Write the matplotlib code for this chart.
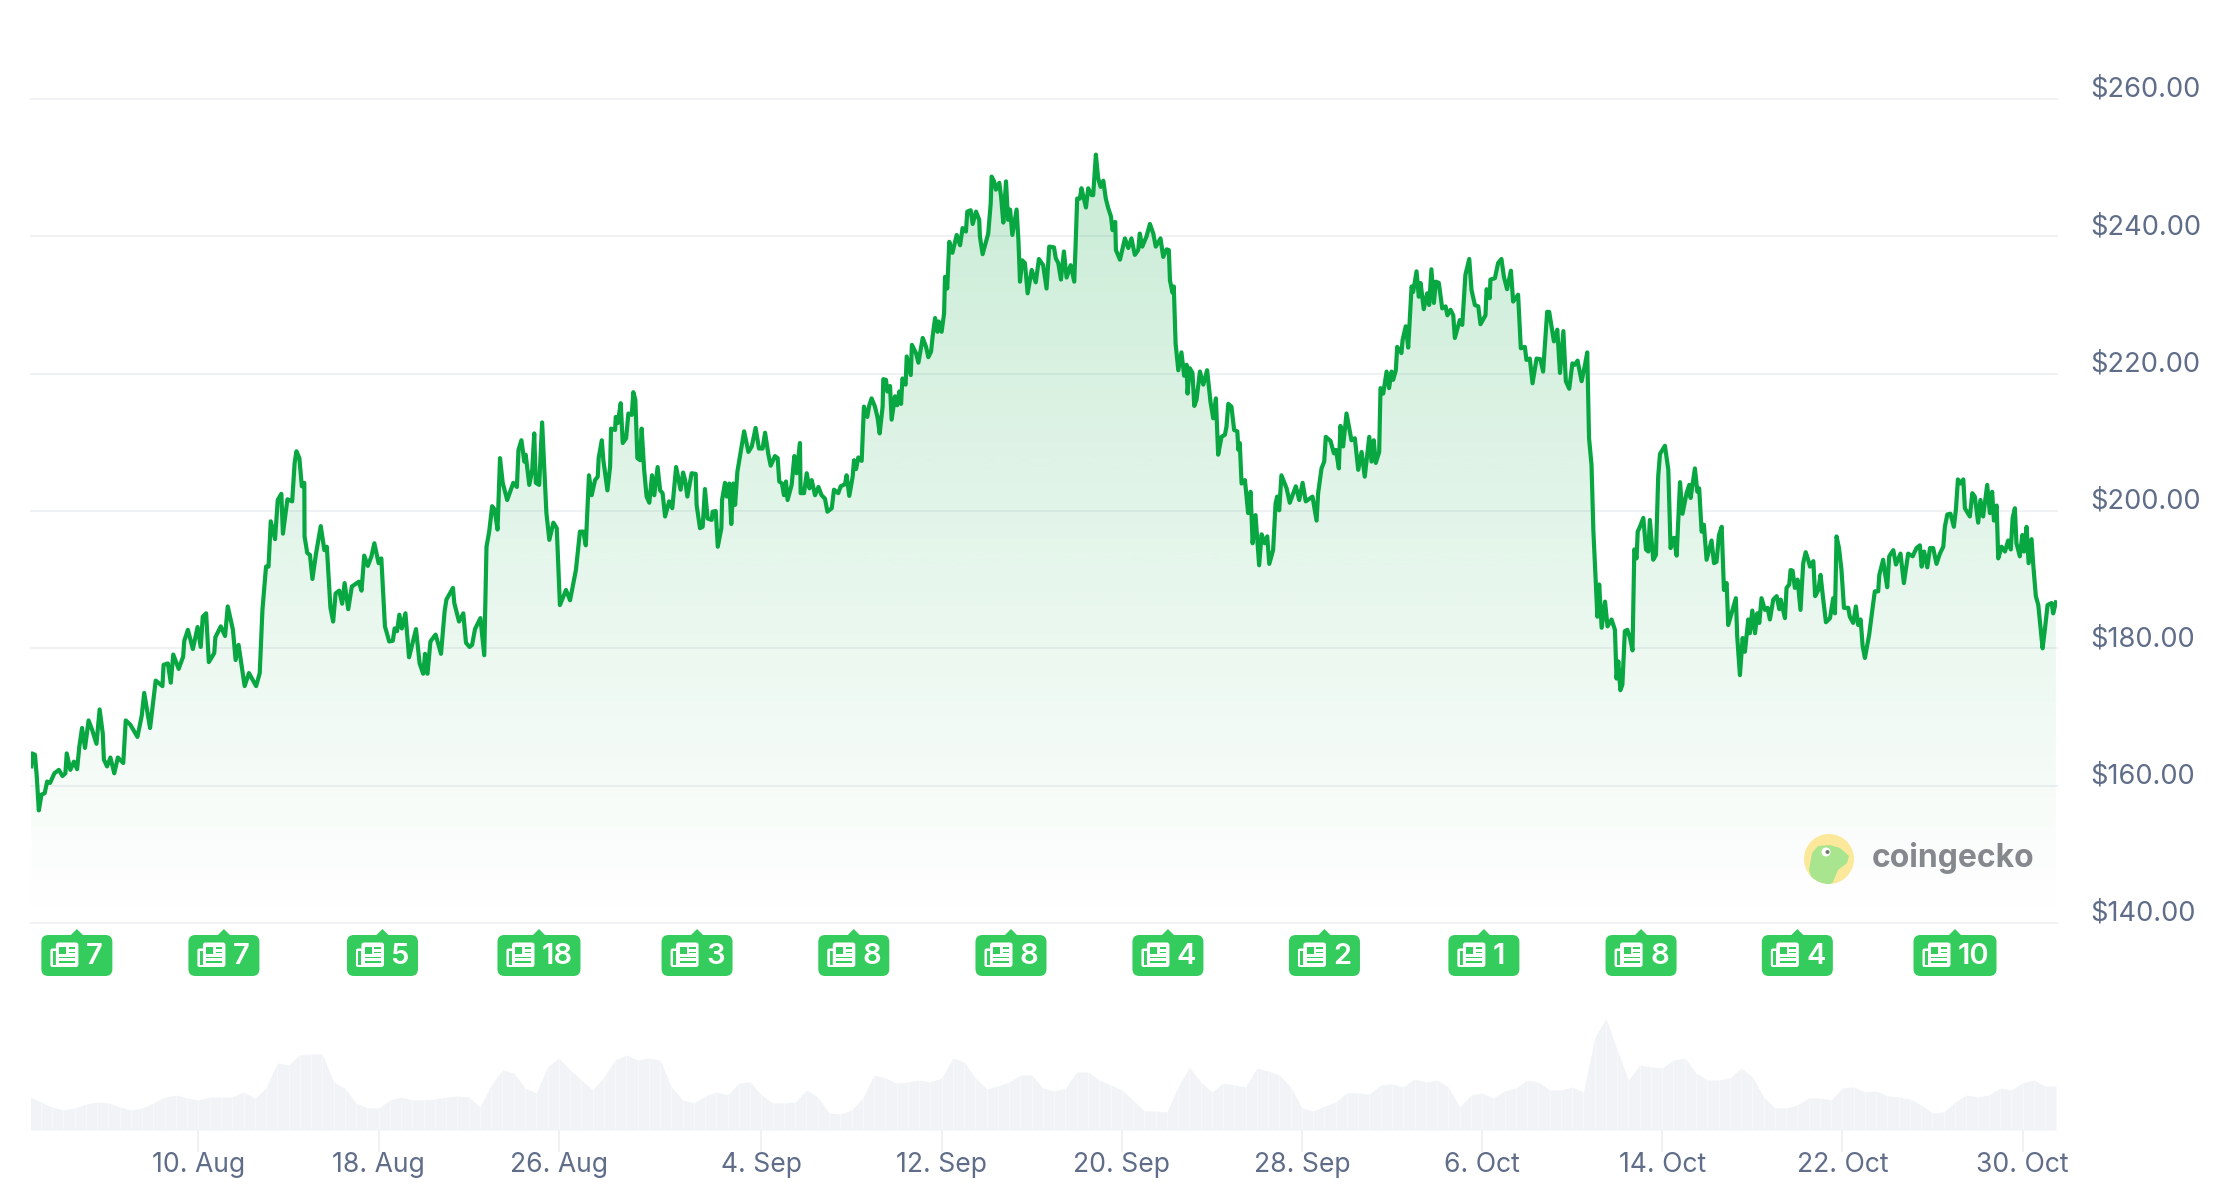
from matplotlib import pyplot as plt
from matplotlib.patches import Circle, FancyBboxPatch, Polygon, Rectangle
import numpy as np

# days counted from 1 Aug, prices in USD
price_days = [
    1.58, 1.61, 1.74, 1.82, 1.91, 2.03, 2.17, 2.28, 2.41, 2.60, 2.80, 2.96, 3.09, 3.15, 3.31, 3.47, 3.61, 3.71, 3.83, 3.96,
    4.12, 4.28, 4.47, 4.61, 4.75, 4.80, 4.94, 5.09, 5.26, 5.42, 5.66, 5.77, 5.97, 6.29, 6.48, 6.59, 6.85, 7.10, 7.40, 7.45,
    7.64, 7.77, 7.88, 8.12, 8.32, 8.37, 8.53, 8.75, 8.96, 9.10, 9.19, 9.34, 9.46, 9.70, 9.75, 9.99, 10.18, 10.30, 10.53, 10.65,
    10.78, 11.05, 11.24, 11.56, 11.72, 11.84, 12.00, 12.11, 12.21, 12.40, 12.52, 12.68, 12.75, 12.95, 13.16, 13.27, 13.35, 13.48, 13.59, 13.70,
    13.71, 13.83, 13.95, 14.06, 14.22, 14.43, 14.59, 14.70, 14.86, 14.98, 15.09, 15.25, 15.38, 15.49, 15.65, 15.81, 16.12, 16.24, 16.36, 16.52,
    16.68, 16.81, 17.00, 17.12, 17.28, 17.47, 17.63, 17.71, 17.82, 17.92, 18.03, 18.19, 18.35, 18.66, 18.82, 18.98, 19.06, 19.17, 19.30, 19.53,
    19.77, 19.93, 20.01, 20.30, 20.36, 20.57, 20.76, 20.88, 21.04, 21.15, 21.28, 21.52, 21.69, 21.79, 21.91, 22.04, 22.15, 22.28, 22.39, 22.51,
    22.71, 22.98, 23.14, 23.21, 23.34, 23.47, 23.53, 23.69, 23.82, 23.91, 23.98, 24.13, 24.26, 24.45, 24.58, 24.76, 24.91, 25.05, 25.32, 25.50,
    25.76, 25.94, 26.09, 26.20, 26.34, 26.46, 26.61, 26.73, 26.77, 26.91, 26.98, 27.16, 27.28, 27.32, 27.50, 27.53, 27.62, 27.75, 27.84, 27.99,
    28.09, 28.24, 28.31, 28.40, 28.49, 28.61, 28.68, 28.79, 28.90, 29.02, 29.14, 29.24, 29.39, 29.50, 29.61, 29.72, 29.90, 30.04, 30.21, 30.41,
    30.52, 30.61, 30.71, 30.90, 31.08, 31.12, 31.27, 31.39, 31.49, 31.61, 31.79, 31.83, 31.97, 32.06, 32.22, 32.25, 32.38, 32.46, 32.57, 32.66,
    32.75, 32.83, 32.93, 33.12, 33.23, 33.42, 33.57, 33.74, 33.89, 34.05, 34.16, 34.31, 34.41, 34.60, 34.72, 34.79, 34.91, 35.00, 35.09, 35.16,
    35.34, 35.46, 35.56, 35.71, 35.74, 35.89, 36.01, 36.13, 36.23, 36.38, 36.53, 36.67, 36.82, 36.93, 37.12, 37.22, 37.41, 37.52, 37.71, 37.78,
    37.90, 38.05, 38.11, 38.20, 38.30, 38.45, 38.55, 38.70, 38.78, 38.89, 39.04, 39.15, 39.25, 39.38, 39.41, 39.53, 39.59, 39.71, 39.78, 39.93,
    40.03, 40.12, 40.20, 40.26, 40.40, 40.45, 40.63, 40.68, 40.86, 40.97, 41.16, 41.31, 41.41, 41.53, 41.60, 41.71, 41.82, 41.87, 42.00, 42.11,
    42.15, 42.25, 42.34, 42.48, 42.67, 42.82, 42.93, 43.08, 43.14, 43.29, 43.38, 43.53, 43.67, 43.70, 43.82, 44.07, 44.18, 44.22, 44.33, 44.41,
    44.56, 44.64, 44.74, 44.86, 44.95, 45.04, 45.14, 45.33, 45.41, 45.48, 45.58, 45.70, 45.82, 46.00, 46.18, 46.32, 46.51, 46.66, 46.78, 46.99,
    47.07, 47.18, 47.30, 47.43, 47.55, 47.73, 47.89, 47.95, 48.02, 48.14, 48.21, 48.41, 48.51, 48.66, 48.73, 48.85, 48.95, 49.06, 49.18, 49.29,
    49.40, 49.52, 49.59, 49.71, 49.74, 49.92, 50.14, 50.29, 50.43, 50.58, 50.73, 50.80, 50.91, 51.10, 51.25, 51.40, 51.51, 51.72, 51.84, 51.99,
    52.09, 52.14, 52.25, 52.31, 52.39, 52.51, 52.65, 52.77, 52.88, 52.92, 53.02, 53.14, 53.22, 53.32, 53.47, 53.62, 53.79, 53.94, 54.06, 54.18,
    54.28, 54.43, 54.58, 54.65, 54.73, 54.87, 54.99, 55.13, 55.18, 55.24, 55.32, 55.47, 55.61, 55.72, 55.81, 55.94, 56.10, 56.21, 56.35, 56.46,
    56.55, 56.72, 56.83, 56.90, 56.99, 57.09, 57.32, 57.46, 57.73, 57.88, 58.03, 58.17, 58.47, 58.65, 58.72, 58.87, 58.99, 59.06, 59.27, 59.42,
    59.51, 59.64, 59.71, 59.83, 59.98, 60.20, 60.35, 60.50, 60.65, 60.79, 60.99, 61.09, 61.19, 61.28, 61.43, 61.49, 61.61, 61.76, 61.87, 61.98,
    62.05, 62.17, 62.23, 62.42, 62.47, 62.61, 62.72, 62.87, 62.94, 63.09, 63.19, 63.27, 63.41, 63.56, 63.65, 63.75, 63.86, 63.95, 64.08, 64.23,
    64.38, 64.46, 64.60, 64.72, 64.79, 65.01, 65.12, 65.26, 65.43, 65.53, 65.68, 65.83, 65.93, 66.15, 66.20, 66.34, 66.37, 66.57, 66.71, 66.86,
    66.97, 67.11, 67.28, 67.38, 67.60, 67.72, 67.90, 67.97, 68.12, 68.24, 68.42, 68.59, 68.71, 68.89, 68.98, 69.19, 69.34, 69.46, 69.61, 69.72,
    69.87, 70.01, 70.12, 70.24, 70.42, 70.57, 70.67, 70.75, 70.86, 70.94, 71.06, 71.12, 71.20, 71.31, 71.46, 71.57, 71.75, 71.90, 71.97, 72.05,
    72.14, 72.23, 72.34, 72.45, 72.57, 72.68, 72.76, 72.86, 72.91, 73.01, 73.16, 73.28, 73.38, 73.45, 73.60, 73.72, 73.82, 73.90, 74.12, 74.27,
    74.37, 74.52, 74.64, 74.79, 74.90, 75.08, 75.20, 75.26, 75.45, 75.56, 75.64, 75.75, 75.85, 75.97, 76.19, 76.30, 76.41, 76.52, 76.64, 76.74,
    76.86, 76.93, 77.08, 77.27, 77.33, 77.45, 77.57, 77.67, 77.82, 77.89, 78.00, 78.12, 78.22, 78.31, 78.41, 78.56, 78.68, 78.78, 78.93, 79.08,
    79.20, 79.26, 79.45, 79.52, 79.64, 79.70, 79.79, 79.89, 80.01, 80.14, 80.26, 80.37, 80.48, 80.56, 80.71, 80.79, 80.93, 81.03, 81.15, 81.27,
    81.45, 81.59, 81.67, 81.74, 81.85, 81.96, 82.07, 82.26, 82.33, 82.48, 82.60, 82.70, 82.81, 82.90, 83.00, 83.19, 83.33, 83.44, 83.59, 83.64,
    83.81, 83.89, 83.99, 84.08, 84.26, 84.38, 84.58, 84.73, 84.92, 85.12, 85.29, 85.44, 85.52, 85.63, 85.77, 85.89, 86.03, 86.18, 86.33, 86.48,
    86.55, 86.66, 86.80, 86.95, 87.04, 87.13, 87.25, 87.37, 87.44, 87.66, 87.77, 87.88, 88.03, 88.13, 88.25, 88.43, 88.55, 88.65, 88.73, 88.85,
    88.92, 89.07, 89.22, 89.36, 89.48, 89.56, 89.66, 89.73, 89.88, 89.99, 90.07, 90.18, 90.27, 90.40, 90.47, 90.59, 90.70, 90.89, 90.99, 91.11,
    91.29, 91.36, 91.48,
]
price_values = [
    162.8, 164.7, 164.5, 161.3, 156.4, 158.7, 158.9, 160.6, 160.4, 161.8, 162.3, 161.4, 161.8, 164.7, 162.3, 163.5, 162.4, 165.7, 168.4, 165.5,
    169.5, 168.1, 166.1, 171.1, 167.6, 163.8, 162.8, 164.1, 161.8, 164.1, 163.3, 169.5, 168.9, 167.1, 170.2, 173.5, 168.4, 175.3, 174.5, 177.6,
    177.8, 175.0, 179.1, 177.0, 178.8, 181.1, 182.7, 179.9, 183.1, 180.2, 184.6, 185.1, 178.0, 179.3, 181.6, 183.2, 181.8, 186.1, 182.7, 178.3,
    180.5, 174.5, 176.4, 174.5, 176.4, 185.6, 191.9, 191.9, 198.5, 195.9, 201.6, 202.5, 196.7, 201.7, 201.4, 207.0, 208.7, 207.7, 203.6, 204.1,
    196.3, 193.9, 193.6, 190.1, 193.8, 197.8, 194.3, 194.8, 185.9, 183.9, 188.0, 188.4, 186.5, 189.5, 185.7, 189.0, 189.7, 188.4, 193.5, 192.0,
    193.4, 195.3, 192.4, 193.1, 183.2, 181.0, 181.1, 182.9, 182.5, 184.9, 182.9, 185.1, 178.7, 182.8, 177.8, 176.3, 179.2, 176.3, 181.0, 182.0,
    179.2, 185.4, 187.1, 188.8, 186.6, 183.9, 185.1, 180.8, 180.2, 180.5, 182.8, 184.4, 179.0, 194.8, 197.0, 200.7, 200.2, 197.3, 207.7, 204.1,
    201.6, 204.1, 203.5, 208.9, 210.3, 207.2, 208.2, 203.8, 206.0, 211.3, 204.1, 203.8, 212.9, 199.7, 195.8, 198.3, 197.5, 186.3, 188.5, 187.0,
    191.4, 197.0, 197.0, 195.0, 205.2, 202.3, 204.5, 205.0, 207.7, 210.3, 207.4, 203.0, 206.5, 212.0, 211.8, 213.7, 212.8, 215.7, 209.9, 210.6,
    214.2, 214.0, 217.3, 216.2, 207.7, 207.4, 212.0, 206.0, 202.1, 201.2, 205.2, 202.3, 206.4, 203.0, 202.6, 199.2, 201.4, 200.4, 206.4, 203.1,
    205.6, 204.5, 202.1, 205.5, 205.4, 200.9, 197.5, 197.7, 203.2, 198.9, 198.7, 199.9, 200.0, 194.8, 197.5, 201.6, 204.1, 202.1, 204.0, 198.1,
    204.0, 200.9, 205.7, 209.4, 211.6, 208.6, 209.4, 212.1, 209.1, 209.1, 211.4, 208.2, 206.6, 208.0, 207.7, 204.3, 204.0, 202.3, 204.3, 201.6,
    203.8, 208.0, 205.5, 209.9, 202.6, 202.6, 205.5, 203.3, 204.5, 202.3, 203.5, 202.3, 201.8, 199.9, 200.4, 203.1, 202.6, 203.6, 203.9, 205.2,
    202.2, 205.0, 207.4, 206.1, 207.8, 207.3, 215.2, 213.7, 215.3, 216.4, 215.2, 213.7, 211.3, 215.2, 219.2, 219.1, 217.4, 218.2, 213.3, 216.7,
    215.4, 217.4, 215.6, 219.3, 218.4, 222.5, 219.8, 224.2, 223.0, 221.6, 225.2, 223.9, 222.4, 223.2, 225.4, 228.1, 226.1, 227.6, 226.1, 228.8,
    234.1, 232.4, 239.2, 237.6, 240.2, 238.7, 241.2, 240.7, 243.6, 243.8, 241.8, 243.6, 242.4, 240.0, 237.4, 240.4, 244.8, 248.7, 248.0, 246.8,
    247.8, 245.8, 242.0, 248.0, 242.4, 243.9, 240.2, 243.9, 239.5, 233.4, 236.5, 236.1, 231.7, 235.1, 233.3, 236.7, 235.8, 232.4, 238.5, 238.4,
    236.8, 236.1, 233.7, 237.8, 234.0, 235.8, 233.4, 238.7, 245.5, 245.5, 247.0, 244.2, 247.0, 246.0, 246.0, 251.9, 248.5, 247.2, 248.1, 245.5,
    244.1, 242.9, 240.9, 242.1, 238.0, 236.6, 239.7, 238.3, 239.7, 237.3, 238.0, 240.4, 238.5, 240.0, 241.8, 240.4, 238.5, 239.7, 237.0, 238.1,
    238.0, 233.6, 231.8, 232.7, 224.4, 220.5, 223.1, 219.7, 221.3, 217.1, 220.8, 220.1, 215.3, 216.2, 220.3, 218.4, 220.5, 215.9, 213.5, 216.4,
    208.2, 210.8, 211.1, 212.3, 215.6, 215.2, 211.8, 211.6, 208.9, 209.9, 204.0, 204.5, 199.7, 202.8, 195.3, 199.4, 192.1, 196.6, 195.3, 196.3,
    192.3, 194.3, 201.1, 202.1, 200.1, 205.2, 203.3, 201.2, 203.6, 201.6, 204.1, 201.4, 202.1, 198.6, 202.6, 206.2, 207.2, 210.8, 210.2, 208.4,
    208.9, 206.2, 212.4, 209.4, 214.2, 210.3, 210.6, 206.0, 208.6, 205.0, 210.8, 207.2, 210.3, 207.0, 208.6, 217.9, 217.1, 220.3, 217.9, 220.3,
    219.1, 220.5, 223.9, 223.0, 224.9, 226.9, 223.8, 232.7, 231.9, 234.9, 231.2, 233.2, 229.4, 231.7, 230.0, 235.2, 230.3, 233.4, 233.2, 229.5,
    229.8, 228.5, 229.3, 228.5, 225.2, 227.8, 227.1, 234.4, 236.7, 232.2, 230.0, 229.8, 227.2, 228.5, 232.3, 231.0, 233.7, 233.9, 236.1, 236.7,
    234.1, 232.3, 235.0, 230.5, 231.5, 223.7, 223.9, 222.0, 222.2, 218.6, 222.2, 222.1, 220.3, 229.0, 229.0, 224.7, 226.4, 220.1, 226.2, 218.9,
    217.8, 221.5, 221.3, 221.9, 218.9, 221.3, 223.1, 210.6, 206.7, 197.3, 189.0, 184.6, 189.3, 183.0, 186.8, 183.2, 184.2, 182.7, 175.6, 178.1,
    173.9, 174.7, 182.5, 182.7, 181.5, 179.7, 194.4, 193.1, 197.0, 197.7, 199.0, 194.4, 194.1, 198.7, 192.9, 193.6, 205.0, 208.3, 209.5, 206.0,
    194.6, 196.1, 193.5, 204.2, 199.6, 202.6, 203.8, 201.9, 206.2, 202.8, 203.3, 197.0, 198.0, 192.9, 195.7, 192.4, 192.6, 196.5, 197.7, 188.5,
    189.5, 183.4, 185.1, 187.3, 181.7, 176.1, 181.5, 179.5, 184.2, 182.2, 185.5, 182.2, 185.1, 183.7, 187.3, 185.6, 185.9, 184.2, 187.1, 187.6,
    185.7, 187.1, 184.4, 188.8, 189.3, 191.4, 191.3, 188.8, 190.0, 185.6, 192.4, 194.0, 192.9, 191.9, 192.7, 187.6, 188.5, 190.7, 187.1, 183.8,
    184.4, 187.3, 185.1, 196.3, 194.6, 191.4, 185.9, 185.9, 184.6, 183.7, 186.1, 183.4, 184.2, 180.3, 178.6, 182.0, 185.6, 188.3, 188.3, 190.7,
    192.9, 191.0, 188.9, 193.4, 194.3, 192.2, 193.8, 189.5, 193.8, 193.4, 194.6, 195.0, 191.9, 194.1, 191.8, 194.6, 194.6, 192.3, 193.8, 194.8,
    197.7, 199.5, 199.6, 197.7, 200.2, 204.6, 204.0, 204.6, 200.4, 199.2, 202.6, 202.1, 198.3, 201.6, 199.2, 203.8, 199.7, 202.8, 198.6, 200.8,
    193.1, 194.8, 194.1, 195.7, 194.4, 199.0, 200.4, 195.3, 193.4, 196.5, 194.1, 197.7, 192.4, 195.9, 192.4, 187.6, 186.3, 180.0, 182.7, 186.3,
    186.6, 185.1, 186.7,
]

# volume, one value every half day from 2 Aug (arbitrary scale, 115 = chart top)
volume_days = np.arange(1.5, 92, 0.5)
volume_values = [
    33, 28, 23, 20, 22, 26, 28, 27, 23, 20, 22, 27, 33, 35, 32, 30, 33, 33, 33, 38,
    32, 42, 67, 65, 75, 76, 76, 48, 42, 27, 22, 22, 30, 33, 30, 30, 31, 33, 34, 33,
    23, 45, 60, 57, 42, 37, 63, 72, 60, 50, 40, 53, 70, 75, 70, 72, 70, 43, 30, 27,
    34, 38, 35, 47, 48, 35, 27, 27, 28, 40, 33, 17, 16, 20, 32, 55, 52, 47, 48, 50,
    48, 52, 72, 68, 52, 41, 44, 48, 55, 55, 42, 39, 42, 58, 58, 50, 45, 40, 30, 19,
    19, 18, 43, 63,
    48, 38, 47, 45, 43, 62, 59, 55, 43, 22, 19, 24, 28, 37, 37, 36, 45, 46, 43, 51,
    48, 50, 43, 23, 35, 37, 32, 39, 42, 50, 48,
    40, 40, 43, 38, 92, 112, 80, 50, 65, 63, 62, 70, 72, 57, 50, 50, 52, 62, 53, 33,
    22, 22, 25, 32, 32, 30, 42, 43, 38, 39, 34, 33, 31, 25, 17, 18, 28, 35, 33, 35,
    42, 40, 47, 50, 44, 44,
]

tick_days = [9, 17, 25, 34, 42, 50, 58, 66, 74, 82, 90]
tick_labels = ['10. Aug', '18. Aug', '26. Aug', '4. Sep', '12. Sep', '20. Sep', '28. Sep', '6. Oct', '14. Oct', '22. Oct', '30. Oct']
price_ticks = [140, 160, 180, 200, 220, 240, 260]

news_days = [3.6, 10.13, 17.17, 24.12, 31.14, 38.1, 45.08, 52.05, 59.0, 66.08, 73.06, 80.0, 87.0]
news_counts = [7, 7, 5, 18, 3, 8, 8, 4, 2, 1, 8, 4, 10]

W, H = 2218, 1202
LINE = '#08a742'
BADGE = '#34cc5c'
TEXT = '#5f6d88'
GRID = '#f0f1f5'
FONT = 'Inter'
XLIM = (1.563, 91.53)


def add_axes_px(left, top, right, bottom):
    return fig.add_axes([left / W, 1 - bottom / H, (right - left) / W, (bottom - top) / H])


def draw_badge(cx, count):
    w = 71 if count < 10 else 83
    left = cx - w / 2
    top, h, r = 935, 41, 7
    over.add_patch(Polygon([(cx, 929), (cx - 8, 937), (cx + 8, 937)], color=BADGE, lw=0))
    over.add_patch(FancyBboxPatch((left + r, top + r), w - 2 * r, h - 2 * r, boxstyle=f'round,pad={r},rounding_size={r}',
                                  fc=BADGE, ec='none'))
    # newspaper icon
    il = left + 9
    white = dict(fc='white', ec='none')
    over.add_patch(FancyBboxPatch((il + 1.5, 950), 6, 15.5, boxstyle='round,pad=1.5,rounding_size=2', **white))
    over.add_patch(Rectangle((il + 2.5, 950.5), 3, 14, fc=BADGE, ec='none'))
    over.add_patch(FancyBboxPatch((il + 7, 944), 19.5, 21.5, boxstyle='round,pad=1.5,rounding_size=2.5', **white))
    over.add_patch(Rectangle((il + 9, 946.5), 7, 7, fc=BADGE, ec='none'))
    for y, x0, x1 in [(947, 18.5, 25), (951.5, 18.5, 25), (956.5, 9, 25), (961, 9, 25)]:
        over.add_patch(Rectangle((il + x0, y), x1 - x0, 1.8, fc=BADGE, ec='none'))
    over.text(left + 44.5, 957, str(count), color='white', fontsize=21, family=FONT, weight=600, ha='left', va='center')


fig = plt.figure(figsize=(W / 100, H / 100), dpi=100)

# price chart
ax = add_axes_px(31, 99, 2057, 923)
ax.set_facecolor('none')
for v in price_ticks:
    ax.axhline(v, color=GRID, lw=1.44, zorder=0, clip_on=False)

area = ax.fill_between(price_days, price_values, 140, color='none', lw=0)
grad = np.zeros((256, 1, 4))
grad[..., :3] = [c / 255 for c in (8, 167, 66)]
grad[:, 0, 3] = np.linspace(0.235, 0.0, 256)
im = ax.imshow(grad, extent=(XLIM[0], XLIM[1], 140, 260), aspect='auto', origin='upper', zorder=1, interpolation='bilinear')
im.set_clip_path(area.get_paths()[0], ax.transData)
ax.plot(price_days, price_values, color=LINE, lw=3.0, solid_joinstyle='round', zorder=2)

ax.set_xlim(*XLIM)
ax.set_ylim(140, 260)
ax.set_xticks([])
ax.set_yticks([])
for s in ax.spines.values():
    s.set_visible(False)
for v in price_ticks:
    ax.annotate(f'${v:.2f}', xy=(1, v), xycoords=('axes fraction', 'data'), xytext=(24, 6.6), textcoords='offset points',
                color=TEXT, fontsize=19.6, family=FONT, ha='left', va='center', annotation_clip=False)

# volume
vax = add_axes_px(31, 1015, 2057, 1130)
vax.set_facecolor('none')
vax.fill_between(volume_days, volume_values, 0, color='#f1f3f6', lw=0)
vax.vlines(volume_days, 0, volume_values, color='white', alpha=0.35, lw=1.0)
vax.set_xlim(*XLIM)
vax.set_ylim(0, 115)
vax.set_yticks([])
vax.set_xticks(tick_days)
vax.set_xticklabels(tick_labels, color=TEXT, fontsize=19.1, family=FONT)
vax.tick_params(axis='x', length=15.8, width=1.44, color=GRID, pad=0)
for s in vax.spines.values():
    s.set_visible(False)

# overlay in pixel units for the badges and the logo
over = fig.add_axes([0, 0, 1, 1])
over.set_xlim(0, W)
over.set_ylim(H, 0)
over.axis('off')
over.patch.set_alpha(0)

fig.canvas.draw()
for day, count in zip(news_days, news_counts):
    draw_badge(ax.transData.transform((day, 140))[0], count)

logo_x, logo_y = 1829, 859
disc = Circle((logo_x, logo_y), 25, fc='#fbe89b', ec='none')
over.add_patch(disc)
gecko = Polygon([(logo_x + dx, logo_y + dy) for dx, dy in [(-17, 21), (-20, 11), (-17, -6), (-11, -13), (1, -14), (11, -11),
                                                           (20, -3), (18, 4), (9, 11), (4, 23), (0, 26), (-17, 26)]],
                fc='#a9e58e', ec='none')
over.add_patch(gecko)
gecko.set_clip_path(disc)
over.add_patch(Circle((logo_x - 3, logo_y - 7), 4.5, fc='white', ec='none'))
over.add_patch(Circle((logo_x - 1.5, logo_y - 7), 2, fc='#6f7a70', ec='none'))
over.text(1872, 867, 'coingecko', color='#85888c', fontsize=23, family=FONT, weight='bold', ha='left', va='baseline')

fig.savefig('out.png', dpi=100)
